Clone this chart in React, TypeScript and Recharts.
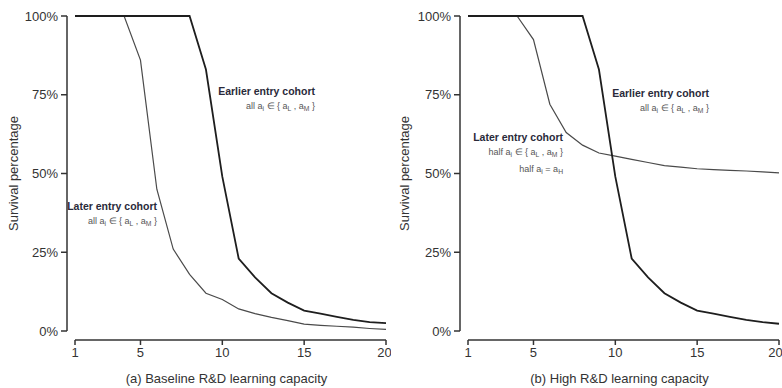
import React from 'react'
import { LineChart, Line, XAxis, YAxis, ReferenceLine, Label } from 'recharts'

const FONT = '"Liberation Sans", Arial, Helvetica, sans-serif'
const INK = '#333'

// capacity steps on the x axis
const capacity = [1, 2, 3, 4, 5, 6, 7, 8, 9, 10, 11, 12, 13, 14, 15, 16, 17, 18, 19, 20]
const xTicks = [1, 5, 10, 15, 20]
const yTicks = [0, 25, 50, 75, 100]

// (a) baseline
const earlierBaseline = [100, 100, 100, 100, 100, 100, 100, 100, 83, 49, 23, 17, 12, 9, 6.5, 5.5, 4.5, 3.5, 2.8, 2.5]
const laterBaseline = [100, 100, 100, 100, 86, 45, 26, 18, 12, 10, 7, 5.5, 4.3, 3.3, 2.2, 1.8, 1.5, 1.2, 0.8, 0.5]

// (b) high capacity
const earlierHigh = [100, 100, 100, 100, 100, 100, 100, 100, 83, 49, 23, 17, 12, 9, 6.5, 5.5, 4.5, 3.5, 2.8, 2.3]
const laterHigh = [100, 100, 100, 100, 92.5, 72, 63, 59, 56.5, 55.5, 54.5, 53.5, 52.5, 52, 51.5, 51.2, 51, 50.8, 50.5, 50.2]

const W = 391
const H = 388
const TOP = 16
const X_AXIS_H = 48
const PAD_X = 8
const PAD_Y = 9

type Note = { right: number; top: number; lines: React.ReactNode[] }

const sub = (s: string) => <sub style={{ fontSize: '0.75em', verticalAlign: '-0.25em' }}>{s}</sub>

const allSet = (prefix: string) => (
  <>
    {prefix} a{sub('i')} ∈ {'{'} a{sub('L')} , a{sub('M')} {'}'}
  </>
)

function YTitle(props: any) {
  const vb = props.viewBox || {}
  const x = (vb.x ?? 0) + 13
  const y = (vb.y ?? TOP) + ((vb.height ?? 324) - PAD_Y) / 2
  return (
    <text x={x} y={y} transform={`rotate(-90 ${x} ${y})`} textAnchor="middle" dominantBaseline="central"
      fontSize={13} fill={INK} fontFamily={FONT}>
      Survival percentage
    </text>
  )
}

function Panel({ title, earlier, later, yAxisWidth, rightMargin, notes }: {
  title: string; earlier: number[]; later: number[]; yAxisWidth: number; rightMargin: number; notes: Note[]
}) {
  const data = capacity.map((x, i) => ({ x, earlier: earlier[i], later: later[i] }))
  const plotW = W - yAxisWidth - rightMargin
  const plotH = H - TOP - X_AXIS_H
  const axisY = -(PAD_Y / (plotH - PAD_Y)) * 100
  const axisX = 1 - PAD_X / ((plotW - PAD_X) / 19)

  return (
    <div style={{ position: 'relative', width: W, height: H }}>
      <LineChart width={W} height={H} data={data} margin={{ top: TOP, right: rightMargin, left: 0, bottom: 0 }}>
        <XAxis dataKey="x" type="number" domain={[1, 20]} ticks={xTicks} padding={{ left: PAD_X, right: 0 }}
          height={X_AXIS_H} axisLine={false} tickLine={{ stroke: INK, strokeWidth: 1.5 }} tickSize={5} tickMargin={3}
          tick={{ fill: INK, fontSize: 13, fontFamily: FONT }}>
          <Label value={title} position="insideBottom" offset={5} fill={INK} fontSize={13} fontFamily={FONT} />
        </XAxis>
        <YAxis type="number" domain={[0, 100]} ticks={yTicks} padding={{ top: 0, bottom: PAD_Y }} width={yAxisWidth}
          axisLine={false} tickLine={{ stroke: INK, strokeWidth: 1.5 }} tickSize={6} tickMargin={3}
          tickFormatter={(v) => `${v}%`} tick={{ fill: INK, fontSize: 13, fontFamily: FONT }}>
          <Label content={YTitle} />
        </YAxis>
        <ReferenceLine segment={[{ x: 1, y: axisY }, { x: 20, y: axisY }]} ifOverflow="visible" stroke={INK} strokeWidth={1.5} />
        <ReferenceLine segment={[{ x: axisX, y: 0 }, { x: axisX, y: 100 }]} ifOverflow="visible" stroke={INK} strokeWidth={1.5} />
        <Line type="linear" dataKey="later" stroke="#4a4a4a" strokeWidth={1.2} dot={false} isAnimationActive={false} />
        <Line type="linear" dataKey="earlier" stroke="#1e1e1e" strokeWidth={1.8} dot={false} isAnimationActive={false} />
      </LineChart>
      {notes.map((n, i) => (
        <div key={i} style={{
          position: 'absolute', right: W - n.right, top: n.top, textAlign: 'right', whiteSpace: 'nowrap',
          fontFamily: FONT, lineHeight: '15px', color: '#555', fontSize: 9,
        }}>
          {n.lines.map((l, j) => (
            <div key={j} style={j === 0 ? { fontWeight: 'bold', fontSize: 10.5, color: '#2a2a3a' } : undefined}>{l}</div>
          ))}
        </div>
      ))}
    </div>
  )
}

export default function App() {
  return (
    <div style={{ position: 'absolute', left: 0, top: 0, width: 782, height: 388, display: 'flex', background: '#fff' }}>
      <Panel
        title="(a) Baseline R&D learning capacity"
        earlier={earlierBaseline}
        later={laterBaseline}
        yAxisWidth={67}
        rightMargin={5}
        notes={[
          { right: 315, top: 84, lines: ['Earlier entry cohort', allSet('all')] },
          { right: 157, top: 199, lines: ['Later entry cohort', allSet('all')] },
        ]}
      />
      <Panel
        title="(b) High R&D learning capacity"
        earlier={earlierHigh}
        later={laterHigh}
        yAxisWidth={69}
        rightMargin={3}
        notes={[
          { right: 318, top: 86, lines: ['Earlier entry cohort', allSet('all')] },
          {
            right: 172, top: 130,
            lines: ['Later entry cohort', allSet('half'), <>half a{sub('i')} = a{sub('H')}</>],
          },
        ]}
      />
    </div>
  )
}
